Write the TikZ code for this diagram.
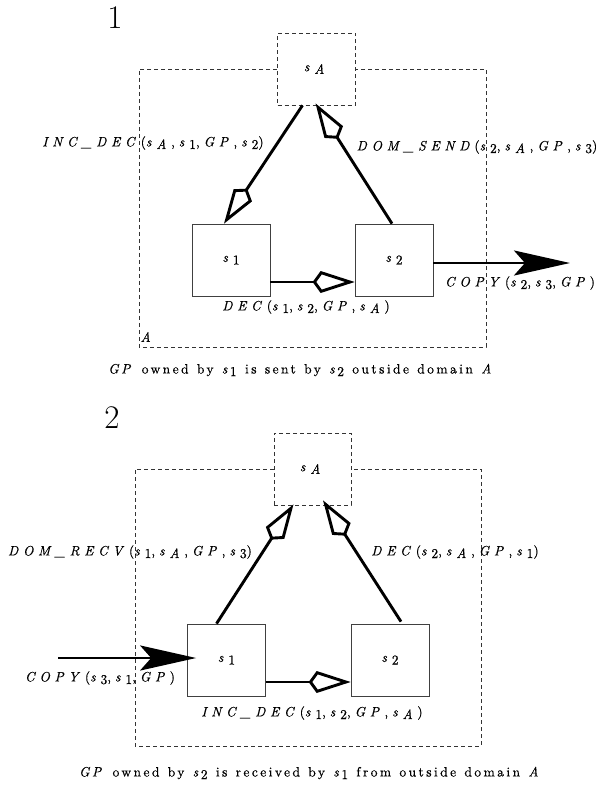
\documentclass[tikz,border=0pt]{standalone}
\usepackage{fontspec}
\usepackage{tikz}
\usetikzlibrary{arrows.meta,positioning}

\newfontfamily\lblfam{lmroman10-regular.otf}[ItalicFont=lmroman10-italic.otf, LetterSpace=35, FakeBold=0.5]
\newfontfamily\capfam{lmroman10-regular.otf}[ItalicFont=lmroman10-italic.otf, LetterSpace=18, WordSpace=1.2, FakeBold=0.5]
\newcommand\lblfont{\lblfam\fontsize{13.5}{15}\selectfont}
\newcommand\capfont{\capfam\fontsize{13.5}{15}\selectfont}
\newcommand\sv[1]{\textit{s}\raisebox{-0.45ex}{#1}}
\newcommand\cm{,\kern4pt}

\begin{document}
\begin{tikzpicture}[
            x=1pt, y=-1pt,
            every node/.style={font=\lblfont, inner sep=0pt},
            site/.style={draw=black!75, line width=0.7pt, minimum width=78pt, minimum height=72pt},
            dsite/.style={draw=black!80, line width=0.7pt, dash pattern=on 4pt off 3pt,
                    minimum width=78pt, minimum height=72pt},
            domainedge/.style={draw=black!80, line width=0.7pt, dash pattern=on 4pt off 3pt},
            msg/.style={line width=2.9pt, -{Kite[open, length=42pt, width=22pt, inset=8pt]}},
            copymsg/.style={line width=2.9pt, -{Stealth[length=56pt, width=25pt, inset=11pt]}},
            panel/.style={font=\fontsize{33}{36}\selectfont},
            plab/.style={font=\capfont}
        ]
        \useasboundingbox (0,0) rectangle (598,790);

        % =============== 1: sent outside domain ===============
        \begin{scope}[shift={(0,0)}]
            \node[panel] (n1) at (115,18) {1};
            \node[dsite] (sAa) at (316.5,69) {\sv{\textit{A}}};
            \node[site] (s1a) at (231,260) {\sv{1}};
            \node[site] (s2a) at (394,260) {\sv{2}};
            \draw[domainedge] (sAa.west) -- (139,69) -- (139,347) -- (486,347) -- (486,69) -- (sAa.east);
            \node (dA1) at (148,337) {\textit{A}};

            \draw[msg] ([xshift=-14pt]sAa.south) -- ([xshift=-7pt]s1a.north);
            \draw[msg] ([xshift=-2pt]s2a.north) -- ([xshift=-1pt, yshift=2pt]sAa.south);
            \draw[msg] ([yshift=-22pt]s1a.east) -- ([yshift=-22pt]s2a.west);
            \coordinate (out1) at (570,263);
            \draw[copymsg] ([yshift=-3pt]s2a.east) -- (out1);

            \node (l1a) at (153,143) {\textit{INC\_DEC}(\sv{\textit{A}}\cm\sv{1}\cm\textit{GP}\cm\sv{2})};
            \node (l1b) at (477,147) {\textit{DOM\_SEND}(\sv{2}\cm\sv{\textit{A}}\cm\textit{GP}\cm\sv{3})};
            \node (l1c) at (306,307) {\textit{DEC}(\sv{1}\cm\sv{2}\cm\textit{GP}\cm\sv{\textit{A}})};
            \node (l1d) at (520,283) {\textit{COPY}(\sv{2}\cm\sv{3}\cm\textit{GP})};
            \node[plab] (c1) at (301,370) {\textit{GP} owned by \sv{1} is sent by \sv{2} outside domain \textit{A}};
        \end{scope}

        % =============== 2: received from outside domain ===============
        \begin{scope}[shift={(0,400)}]
            \node[panel] (n2) at (112,18) {2};
            \node[dsite, minimum width=77pt] (sAb) at (312.5,69) {\sv{\textit{A}}};
            \node[site] (s1b) at (226.5,260) {\sv{1}};
            \node[site] (s2b) at (390,260) {\sv{2}};
            \draw[domainedge] (sAb.west) -- (135,69) -- (135,346) -- (481,346) -- (481,69) -- (sAb.east);

            \draw[msg] ([xshift=-10pt]s1b.north) -- ([xshift=-19pt, yshift=1pt]sAb.south);
            \draw[msg] ([xshift=11pt, yshift=2pt]s2b.north) -- ([xshift=10.5pt, yshift=5pt]sAb.south);
            \draw[msg] ([yshift=-22pt]s1b.east) -- ([yshift=-22pt]s2b.west);
            \coordinate (in2) at (58,258);
            \draw[copymsg] (in2) -- ([xshift=9pt, yshift=2pt]s1b.west);

            \node (l2a) at (130,152) {\textit{DOM\_RECV}(\sv{1}\cm\sv{\textit{A}}\cm\textit{GP}\cm\sv{3})};
            \node (l2b) at (455,152) {\textit{DEC}(\sv{2}\cm\sv{\textit{A}}\cm\textit{GP}\cm\sv{1})};
            \node (l2c) at (100,278) {\textit{COPY}(\sv{3}\cm\sv{1}\cm\textit{GP})};
            \node (l2d) at (312,313) {\textit{INC\_DEC}(\sv{1}\cm\sv{2}\cm\textit{GP}\cm\sv{\textit{A}})};
            \node[plab] (c2) at (310,373) {\textit{GP} owned by \sv{2} is received by \sv{1} from outside domain \textit{A}};
        \end{scope}

    \end{tikzpicture}
\end{document}
